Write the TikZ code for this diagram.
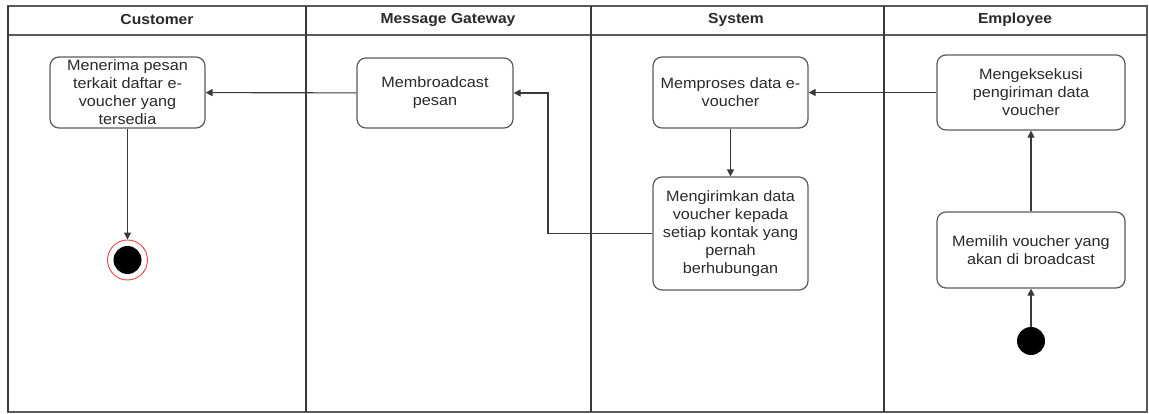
\documentclass[tikz,border=0pt]{standalone}
\usepackage{fontspec}
\setmainfont{Liberation Sans}[FakeStretch=1.08]
\usetikzlibrary{arrows.meta}
\definecolor{linegray}{HTML}{3A3A3A}
\definecolor{boxgray}{HTML}{5A5A5A}
\definecolor{txtgray}{HTML}{2A2A2A}
\tikzset{
  lane/.style={draw=linegray, line width=2.2pt},
  frame/.style={draw=boxgray, line width=1.3pt},
  actbox/.style={draw=boxgray, line width=1.2pt, rounded corners=9pt, align=center,
    text=txtgray, font=\fontsize{15}{18}\selectfont, inner sep=0pt},
  headtxt/.style={font=\bfseries\fontsize{14.5}{17}\selectfont, text=txtgray},
  flow/.style={draw=linegray, line width=1.1pt, -{Triangle[length=7pt,width=7pt]}},
  startnode/.style={circle, fill=black, minimum size=28pt, inner sep=0pt},
  endnode/.style={circle, draw=red!75, line width=0.9pt, minimum size=40pt, inner sep=0pt}
}
\begin{document}
\begin{tikzpicture}[x=1pt,y=-1pt]
\useasboundingbox (0,0) rectangle (1149,414);
% frame
\draw[frame] (8,6) rectangle (1147,412);
\draw[frame] (8,35) -- (1147,35);
\draw[lane] (306,6) -- (306,412);
\draw[lane] (591,6) -- (591,412);
\draw[lane] (884,6) -- (884,412);
\draw[lane] (8,6) -- (8,412);
% headers
\node[headtxt] (hc) at (157,20) {Customer};
\node[headtxt] (hm) at (448,20) {Message Gateway};
\node[headtxt] (hs) at (736,20) {System};
\node[headtxt] (he) at (1015,20) {Employee};
% activities
\node[actbox, minimum width=155pt, minimum height=71pt] (cust) at (127.5,92.5)
  {Menerima pesan\\terkait daftar e-\\voucher yang\\tersedia};
\node[actbox, minimum width=156pt, minimum height=70pt] (mg) at (435,93)
  {Membroadcast\\pesan};
\node[actbox, minimum width=155pt, minimum height=71pt] (sys1) at (730.5,92.5)
  {Memproses data e-\\voucher};
\node[actbox, minimum width=155pt, minimum height=113pt] (sys2) at (730.5,233.5)
  {Mengirimkan data\\voucher kepada\\setiap kontak yang\\pernah\\berhubungan};
\node[actbox, minimum width=188pt, minimum height=75pt] (emp1) at (1031,92.5)
  {Mengeksekusi\\pengiriman data\\voucher};
\node[actbox, minimum width=188pt, minimum height=76pt] (emp2) at (1031,250)
  {Memilih voucher yang\\akan di broadcast};
\node[startnode] (start) at (1031,341) {};
\node[endnode] (end) at (127.5,260) {};
\fill[black] (end.center) circle[radius=14pt];
\coordinate (bend) at (548,233.5);
% flows
\draw[flow] (start) -- (emp2);
\draw[flow] (emp2) -- (emp1);
\draw[flow] (emp1) -- (sys1);
\draw[flow] (sys1) -- (sys2);
\draw[flow] (sys2.west) -- (bend) |- (mg.east);
\draw[flow] (mg) -- (cust);
\draw[flow] (cust) -- (end);
\end{tikzpicture}
\end{document}
